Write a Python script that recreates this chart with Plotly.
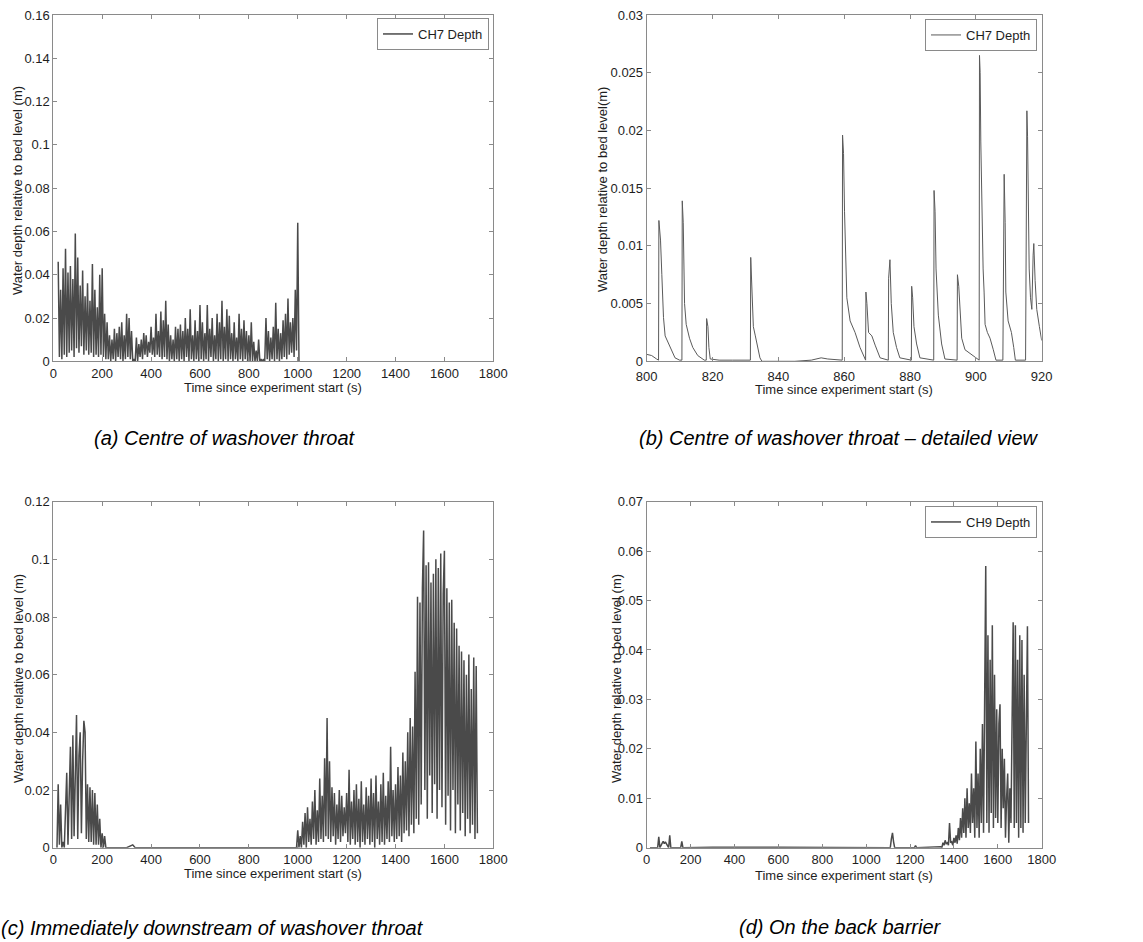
import plotly.graph_objects as go

# ---------------- data ----------------
# (a) CH7 depth, sampled every 5 s from t = 20 s
a_start, a_step = 20, 5
a_depth = [
    0.046, 0.002, 0.033, 0.001, 0.043, 0.003, 0.052, 0.002, 0.041, 0.004,
    0.044, 0.005, 0.038, 0.002, 0.059, 0.006, 0.048, 0.004, 0.035, 0.007,
    0.042, 0.003, 0.030, 0.005, 0.036, 0.003, 0.028, 0.004, 0.045, 0.002,
    0.033, 0.003, 0.025, 0.002, 0.040, 0.003, 0.043, 0.002, 0.022, 0.001,
    0.018, 0.001, 0.012, 0.000, 0.010, 0.001, 0.015, 0.000, 0.013, 0.002,
    0.016, 0.001, 0.018, 0.000, 0.012, 0.001, 0.022, 0.002, 0.020, 0.001,
    0.014, 0.000, 0.001, 0.000, 0.011, 0.000, 0.008, 0.002, 0.010, 0.001,
    0.013, 0.003, 0.012, 0.002, 0.009, 0.004, 0.016, 0.003, 0.011, 0.002,
    0.022, 0.003, 0.014, 0.002, 0.023, 0.001, 0.019, 0.002, 0.028, 0.001,
    0.017, 0.000, 0.012, 0.001, 0.010, 0.000, 0.016, 0.001, 0.015, 0.000,
    0.017, 0.001, 0.014, 0.000, 0.020, 0.002, 0.015, 0.000, 0.024, 0.001,
    0.012, 0.000, 0.019, 0.001, 0.014, 0.000, 0.026, 0.001, 0.018, 0.000,
    0.013, 0.001, 0.026, 0.000, 0.015, 0.002, 0.020, 0.000, 0.012, 0.001,
    0.022, 0.000, 0.018, 0.001, 0.028, 0.000, 0.016, 0.001, 0.024, 0.000,
    0.021, 0.001, 0.013, 0.000, 0.018, 0.001, 0.011, 0.000, 0.022, 0.001,
    0.015, 0.000, 0.019, 0.001, 0.014, 0.000, 0.012, 0.000, 0.018, 0.000,
    0.009, 0.000, 0.005, 0.000, 0.010, 0.000, 0.001, 0.000, 0.001, 0.000,
    0.020, 0.001, 0.014, 0.000, 0.011, 0.001, 0.016, 0.000, 0.027, 0.001,
    0.015, 0.000, 0.013, 0.001, 0.019, 0.002, 0.022, 0.001, 0.029, 0.003,
    0.018, 0.004, 0.020, 0.002, 0.033, 0.005, 0.064, 0.000,
]

# (b) CH7 depth, detailed view 800-920 s
b_time = [
    800.0, 801.5, 803.0, 803.6, 803.7, 804.2, 804.6, 805.1, 805.6, 806.5,
    807.5, 808.6, 810.0, 810.7, 810.8, 811.1, 811.5, 812.0, 813.0, 814.0,
    815.5, 817.5, 818.1, 818.2, 818.6, 818.9, 819.3, 822.0, 826.0, 831.5,
    831.6, 831.9, 832.4, 833.0, 833.6, 834.4, 835.0, 845.0, 850.0, 853.0,
    855.0, 858.0, 859.4, 859.5, 859.8, 860.1, 860.8, 861.8, 863.3, 864.8,
    866.3, 866.5, 866.6, 866.9, 867.4, 868.4, 869.4, 870.9, 873.4, 873.5,
    873.9, 874.3, 874.9, 875.9, 876.9, 880.4, 880.5, 880.8, 881.2, 882.0,
    883.0, 887.2, 887.3, 887.6, 887.9, 888.6, 889.6, 890.6, 894.3, 894.4,
    894.8, 895.2, 895.7, 896.7, 898.5, 899.7, 901.0, 901.1, 901.3, 901.5,
    902.0, 902.2, 902.5, 902.8, 903.5, 904.3, 905.3, 906.1, 908.2, 908.3,
    908.6, 908.9, 909.1, 909.8, 910.8, 911.5, 912.0, 915.1, 915.2, 915.5,
    915.7, 916.2, 916.6, 917.0, 917.4, 917.6, 918.0, 918.5, 919.3, 920.0,
]
b_depth = [
    0.0006, 0.0005, 0.0002, 0.0001, 0.0122, 0.0105, 0.0075, 0.0038, 0.0022, 0.0016,
    0.0009, 0.0003, 0.0001, 0.0001, 0.0139, 0.0120, 0.0050, 0.0032, 0.0020, 0.0012,
    0.0005, 0.0001, 0.0001, 0.0037, 0.0030, 0.0012, 0.0002, 0.0001, 0.0001, 0.0001,
    0.0090, 0.0070, 0.0030, 0.0022, 0.0015, 0.0003, 0.0000, 0.0000, 0.0001, 0.0003,
    0.0002, 0.0001, 0.0001, 0.0196, 0.0180, 0.0130, 0.0055, 0.0035, 0.0025, 0.0012,
    0.0003, 0.0001, 0.0060, 0.0050, 0.0025, 0.0022, 0.0014, 0.0003, 0.0001, 0.0072,
    0.0088, 0.0050, 0.0025, 0.0012, 0.0003, 0.0001, 0.0065, 0.0055, 0.0030, 0.0015,
    0.0003, 0.0001, 0.0148, 0.0130, 0.0080, 0.0040, 0.0015, 0.0002, 0.0001, 0.0075,
    0.0065, 0.0045, 0.0020, 0.0010, 0.0006, 0.0004, 0.0001, 0.0265, 0.0250, 0.0190,
    0.0100, 0.0080, 0.0060, 0.0032, 0.0025, 0.0020, 0.0010, 0.0001, 0.0001, 0.0066,
    0.0162, 0.0120, 0.0060, 0.0035, 0.0025, 0.0012, 0.0001, 0.0001, 0.0110, 0.0217,
    0.0195, 0.0080, 0.0055, 0.0045, 0.0092, 0.0102, 0.0070, 0.0045, 0.0030, 0.0018,
]

# (c) immediately downstream of throat
c_seg1_start, c_seg1_step = 15, 5
c_seg1_depth = [
    0.000, 0.022, 0.001, 0.015, 0.000, 0.002, 0.000, 0.012, 0.026, 0.001,
    0.018, 0.035, 0.003, 0.039, 0.004, 0.030, 0.046, 0.003, 0.032, 0.040,
    0.005, 0.030, 0.044, 0.040, 0.003, 0.022, 0.002, 0.021, 0.002, 0.020,
    0.001, 0.019, 0.001, 0.015, 0.001, 0.010, 0.000, 0.005, 0.000, 0.004,
    0.000, 0.000,
]
c_quiet_time = [300, 325, 335, 600, 900, 990]
c_quiet_depth = [0.000, 0.001, 0.000, 0.000, 0.000, 0.000]
c_seg2_start, c_seg2_step = 995, 5
c_seg2_depth = [
    0.000, 0.006, 0.000, 0.004, 0.000, 0.009, 0.001, 0.012, 0.000, 0.014,
    0.002, 0.010, 0.001, 0.016, 0.003, 0.020, 0.001, 0.013, 0.002, 0.024,
    0.003, 0.018, 0.002, 0.031, 0.004, 0.045, 0.003, 0.030, 0.002, 0.021,
    0.004, 0.019, 0.001, 0.015, 0.003, 0.020, 0.002, 0.018, 0.004, 0.014,
    0.005, 0.019, 0.002, 0.027, 0.001, 0.016, 0.003, 0.020, 0.001, 0.022,
    0.002, 0.017, 0.000, 0.023, 0.002, 0.015, 0.001, 0.021, 0.003, 0.018,
    0.001, 0.024, 0.002, 0.019, 0.000, 0.025, 0.003, 0.016, 0.001, 0.022,
    0.002, 0.026, 0.001, 0.018, 0.003, 0.023, 0.002, 0.035, 0.004, 0.020,
    0.002, 0.022, 0.003, 0.028, 0.004, 0.025, 0.002, 0.033, 0.005, 0.030,
    0.006, 0.040, 0.004, 0.045, 0.008, 0.042, 0.005, 0.061, 0.010, 0.087,
    0.008, 0.085, 0.015, 0.090, 0.110, 0.020, 0.098, 0.010, 0.099, 0.025,
    0.092, 0.012, 0.095, 0.022, 0.100, 0.010, 0.097, 0.020, 0.102, 0.014,
    0.088, 0.103, 0.008, 0.090, 0.018, 0.085, 0.006, 0.086, 0.020, 0.078,
    0.005, 0.076, 0.015, 0.070, 0.006, 0.068, 0.012, 0.065, 0.004, 0.060,
    0.010, 0.067, 0.005, 0.055, 0.008, 0.066, 0.003, 0.063, 0.005,
]

# (d) CH9 depth on the back barrier
d_quiet_time = [15, 50, 55, 60, 75, 80, 85, 100, 105, 110, 155, 160, 165,
                300, 600, 900, 1110, 1115, 1120, 1125, 1130, 1220, 1225, 1230, 1340]
d_quiet_depth = [0.0, 0.0, 0.0022, 0.0, 0.0013, 0.0008, 0.0012, 0.0, 0.0025, 0.0,
                 0.0, 0.0013, 0.0, 0.0001, 0.0001, 0.0001, 0.0, 0.0018, 0.0030, 0.0012,
                 0.0, 0.0, 0.0004, 0.0, 0.0002]
d_active_start, d_active_step = 1345, 5
d_active_depth = [
    0.0000, 0.0010, 0.0005, 0.0015, 0.0008, 0.0010, 0.0005, 0.0050, 0.0010, 0.0012,
    0.0005, 0.0020, 0.0010, 0.0025, 0.0008, 0.0040, 0.0015, 0.0060, 0.0020, 0.0080,
    0.0030, 0.0100, 0.0020, 0.0120, 0.0040, 0.0090, 0.0030, 0.0150, 0.0050, 0.0120,
    0.0020, 0.0215, 0.0040, 0.0150, 0.0020, 0.0200, 0.0050, 0.0250, 0.0030, 0.0300,
    0.0570, 0.0050, 0.0430, 0.0030, 0.0380, 0.0070, 0.0450, 0.0040, 0.0350, 0.0060,
    0.0280, 0.0050, 0.0250, 0.0290, 0.0040, 0.0200, 0.0080, 0.0180, 0.0020, 0.0100,
    0.0150, 0.0010, 0.0120, 0.0050, 0.0300, 0.0456, 0.0040, 0.0450, 0.0050, 0.0380,
    0.0020, 0.0430, 0.0040, 0.0420, 0.0030, 0.0350, 0.0050, 0.0320, 0.0448, 0.0050,
]

x_title = "Time since experiment start (s)"
y_title = "Water depth relative to bed level (m)"
y_title_b = "Water depth relative to bed level(m)"
captions = [
    "(a) Centre of washover throat",
    "(b) Centre of washover throat \u2013 detailed view",
    "(c) Immediately downstream of washover throat",
    "(d) On the back barrier",
]

# ---------------- build series ----------------
a_time = [a_start + a_step * i for i in range(len(a_depth))]
c_time = ([c_seg1_start + c_seg1_step * i for i in range(len(c_seg1_depth))]
          + c_quiet_time
          + [c_seg2_start + c_seg2_step * i for i in range(len(c_seg2_depth))])
c_depth = c_seg1_depth + c_quiet_depth + c_seg2_depth
d_time = d_quiet_time + [d_active_start + d_active_step * i for i in range(len(d_active_depth))]
d_depth = d_quiet_depth + d_active_depth

W, H = 1143, 942
FONT = "Arial, Liberation Sans, Helvetica, sans-serif"
TXT = "#1e1e1e"
LINE = "#4a4a4a"
DENSE_W = 1.5

fig = go.Figure()
fig.add_trace(go.Scatter(x=a_time, y=a_depth, mode="lines", name="CH7 Depth",
                         line=dict(color=LINE, width=DENSE_W), xaxis="x", yaxis="y",
                         legend="legend"))
fig.add_trace(go.Scatter(x=b_time, y=b_depth, mode="lines", name="CH7 Depth",
                         line=dict(color="#5a5a5a", width=1), xaxis="x2", yaxis="y2",
                         legend="legend2"))
fig.add_trace(go.Scatter(x=c_time, y=c_depth, mode="lines", name="CH8 Depth",
                         line=dict(color=LINE, width=DENSE_W), xaxis="x3", yaxis="y3",
                         showlegend=False))
fig.add_trace(go.Scatter(x=d_time, y=d_depth, mode="lines", name="CH9 Depth",
                         line=dict(color=LINE, width=DENSE_W), xaxis="x4", yaxis="y4",
                         legend="legend3"))

def px_x(p):
    return p / W

def px_y(p):
    return (H - p) / H

dom_left = [px_x(53.3), px_x(493.3)]
dom_right = [px_x(646.7), px_x(1041.7)]
dom_top = [px_y(361.3), px_y(15)]
dom_bot = [px_y(847.7), px_y(501.7)]

axis_common = dict(showline=True, linecolor="#8a8a8a", linewidth=1, mirror="ticks",
                   ticks="inside", ticklen=4, tickcolor="#8a8a8a", showgrid=False,
                   zeroline=False, automargin=False,
                   tickfont=dict(family=FONT, size=13, color=TXT))

def xax(domain, anchor, rng, dtick, standoff=0):
    return dict(axis_common, domain=domain, anchor=anchor, range=rng, dtick=dtick,
                tick0=rng[0], ticklabelstandoff=standoff)

def yax(domain, anchor, rng, dtick):
    return dict(axis_common, domain=domain, anchor=anchor, range=rng, dtick=dtick, tick0=0)

legend_common = dict(bordercolor="#8a8a8a", borderwidth=1, bgcolor="white",
                     font=dict(family=FONT, size=13, color=TXT),
                     xanchor="right", yanchor="top", itemwidth=30,
                     tracegroupgap=0)

fig.update_layout(
    width=W, height=H, margin=dict(l=0, r=0, t=0, b=0, autoexpand=False),
    paper_bgcolor="white", plot_bgcolor="white",
    xaxis=xax(dom_left, "y", [0, 1800], 200),
    yaxis=yax(dom_top, "x", [0, 0.16], 0.02),
    xaxis2=xax(dom_right, "y2", [800, 920], 20, standoff=3),
    yaxis2=yax(dom_top, "x2", [0, 0.03], 0.005),
    xaxis3=xax(dom_left, "y3", [0, 1800], 200),
    yaxis3=yax(dom_bot, "x3", [0, 0.12], 0.02),
    xaxis4=xax(dom_right, "y4", [0, 1800], 200),
    yaxis4=yax(dom_bot, "x4", [0, 0.07], 0.01),
    legend=dict(legend_common, x=px_x(489), y=px_y(18)),
    legend2=dict(legend_common, x=px_x(1037), y=px_y(19)),
    legend3=dict(legend_common, x=px_x(1037), y=px_y(506)),
    showlegend=True,
)

# axis titles (placed as in the original; y titles overlap the tick labels there)
ytitles = [(18, 191, y_title), (603, 190, y_title_b), (18, 679, y_title), (616, 679, y_title)]
for xp, yp, txt in ytitles:
    fig.add_annotation(x=px_x(xp), y=px_y(yp), xref="paper", yref="paper",
                       text=txt, textangle=-90, showarrow=False,
                       font=dict(family=FONT, size=13, color=TXT),
                       xanchor="center", yanchor="middle")
xtitles = [(273, 387), (844, 389), (273, 873), (844, 875)]
for xp, yp in xtitles:
    fig.add_annotation(x=px_x(xp), y=px_y(yp), xref="paper", yref="paper",
                       text=x_title, showarrow=False,
                       font=dict(family=FONT, size=13, color=TXT),
                       xanchor="center", yanchor="middle")

# captions
caps = [(225, 438), (839, 438), (212, 928), (840, 927)]
for (xp, yp), txt in zip(caps, captions):
    fig.add_annotation(x=px_x(xp), y=px_y(yp), xref="paper", yref="paper",
                       text="<i>" + txt + "</i>", showarrow=False,
                       font=dict(family=FONT, size=20, color="black"),
                       xanchor="center", yanchor="middle")

fig.write_html("out.html")
